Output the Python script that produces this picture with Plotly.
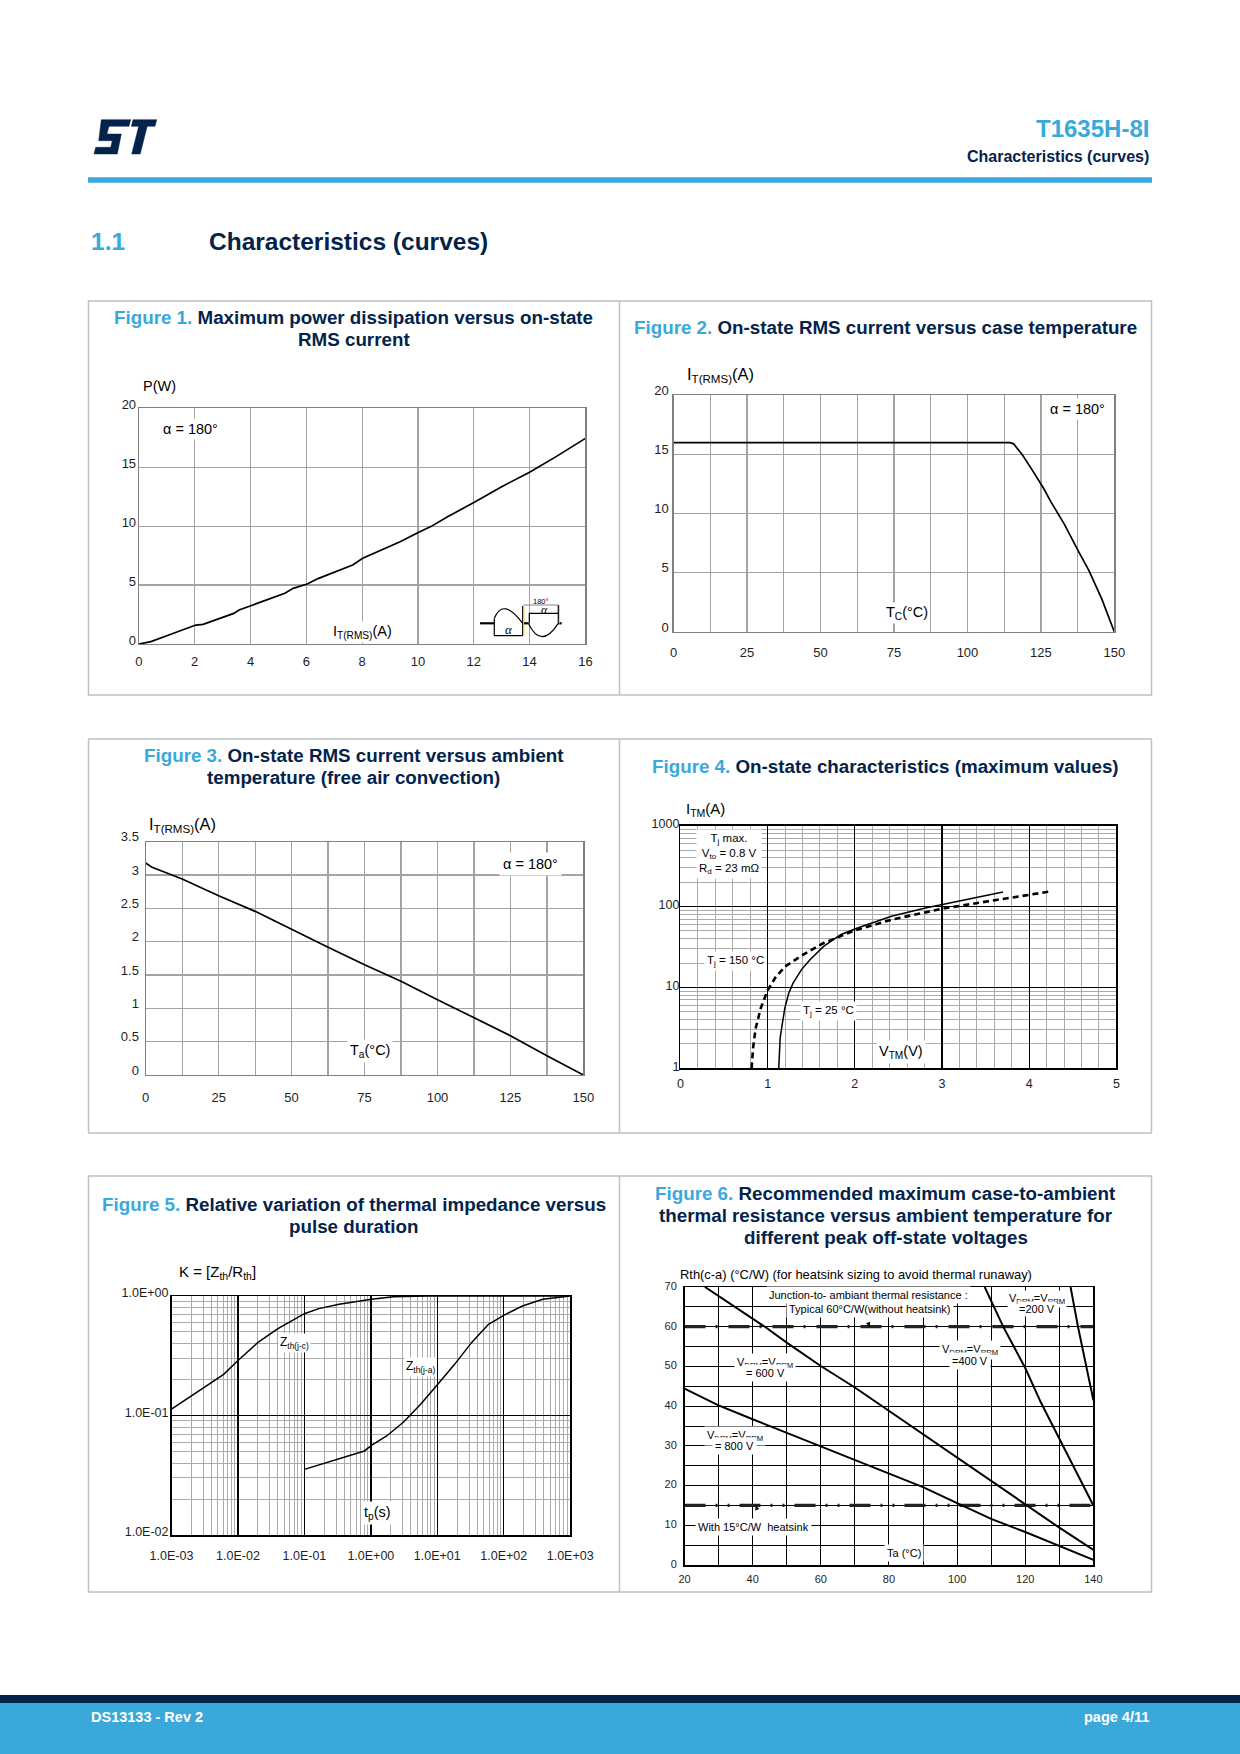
import plotly.graph_objects as go

# ------------------------------------------------------------------ data
# Figure 1 : P(W) vs IT(RMS)(A)
f1_it = [0, 0.43, 1.0, 2.04, 2.3, 3.4, 3.59, 4.06, 5.23, 5.53, 6.03, 6.44, 6.93,
         7.66, 8.02, 8.75, 9.36, 10.03, 10.46, 11.06, 12.02, 13.0, 14.0, 14.95, 16.0]
f1_p = [0, 0.2, 0.7, 1.61, 1.67, 2.6, 2.89, 3.31, 4.3, 4.72, 5.09, 5.57, 6.0,
        6.7, 7.27, 8.03, 8.68, 9.48, 9.96, 10.8, 12.02, 13.35, 14.57, 15.9, 17.45]
f1_xticks = [0, 2, 4, 6, 8, 10, 12, 14, 16]
f1_yticks = [0, 5, 10, 15, 20]

# Figure 2 : IT(RMS) vs Tc
f2_tc = [0, 114.5, 115.7, 118.6, 122, 126, 128.4, 133, 137.6, 141.3, 145.7, 150]
f2_it = [16, 16, 15.9, 15.0, 13.7, 12.1, 11.0, 9.1, 6.9, 5.2, 2.8, 0]
f2_xticks = [0, 25, 50, 75, 100, 125, 150]
f2_yticks = [0, 5, 10, 15, 20]

# Figure 3 : IT(RMS) vs Ta
f3_ta = [0, 2, 12.5, 25, 37.5, 50, 62.5, 75, 87.5, 100, 112.5, 125, 137.5, 150]
f3_it = [3.18, 3.12, 2.94, 2.69, 2.455, 2.18, 1.915, 1.655, 1.405, 1.13, 0.855, 0.59, 0.29, 0]
f3_xticks = [0, 25, 50, 75, 100, 125, 150]
f3_yticks = [0, 0.5, 1, 1.5, 2, 2.5, 3, 3.5]
f3_yticktext = ["0", "0.5", "1", "1.5", "2", "2.5", "3", "3.5"]

# Figure 4 : ITM vs VTM
f4_v25 = [1.128, 1.144, 1.167, 1.198, 1.241, 1.292, 1.389, 1.486, 1.642, 1.837, 2.031, 2.42, 2.81, 3.2, 3.70]
f4_i25 = [1, 2.37, 3.46, 5.57, 8.4, 11.3, 16.6, 22, 32.2, 44.9, 54.3, 75.7, 95.9, 116, 151]
f4_v150 = [0.817, 0.833, 0.864, 0.922, 1.0, 1.097, 1.214, 1.409, 1.642, 1.992, 2.42, 3.004, 3.588, 4.249]
f4_i150 = [1, 1.78, 3.15, 5.57, 9.2, 13.7, 18.6, 25.4, 35.4, 50.3, 68.8, 94.2, 119, 154]
f4_xticks = [0, 1, 2, 3, 4, 5]
f4_yticks = [1, 10, 100, 1000]
f4_yminor = [2, 3, 4, 5, 6, 7, 8, 9, 20, 30, 40, 50, 60, 70, 80, 90,
             200, 300, 400, 500, 600, 700, 800, 900]

# Figure 5 : K vs tp
f5_tjc = [0.001, 0.0019, 0.0034, 0.0061, 0.0101, 0.0198, 0.040, 0.064, 0.1, 0.165, 0.333, 1.02, 2.19, 7.1, 1000]
f5_kjc = [0.113, 0.144, 0.177, 0.221, 0.29, 0.407, 0.533, 0.618, 0.711, 0.784, 0.852, 0.938, 0.987, 1.0, 1.0]
f5_tja = [0.1, 0.21, 0.42, 0.8, 1.02, 1.73, 3.11, 5.61, 10.1, 18.2, 32.7, 58.9, 100, 191, 386, 1000]
f5_kja = [0.0354, 0.0403, 0.0458, 0.0505, 0.0562, 0.0674, 0.0883, 0.124, 0.182, 0.268, 0.407, 0.579, 0.689, 0.825, 0.938, 1.0]
f5_xticks = [1e-3, 1e-2, 1e-1, 1e0, 1e1, 1e2, 1e3]
f5_xticktext = ["1.0E-03", "1.0E-02", "1.0E-01", "1.0E+00", "1.0E+01", "1.0E+02", "1.0E+03"]
f5_yticks = [0.01, 0.1, 1]
f5_yticktext = ["1.0E-02", "1.0E-01", "1.0E+00"]
f5_minor = [2, 3, 4, 5, 6, 7, 8, 9]

# Figure 6 : Rth(c-a) vs Ta
f6_t800 = [20, 30, 40, 50, 60, 70, 80, 90, 100, 110, 120, 130, 140]
f6_r800 = [44.4, 40.2, 36.7, 33.3, 30.0, 26.4, 23.2, 19.6, 15.6, 11.6, 8.3, 4.9, 1.3]
f6_t600 = [26, 40, 43.9, 50, 60, 70, 80, 90, 100, 110, 120, 130, 140]
f6_r600 = [70, 61.9, 59.8, 56.0, 50.1, 44.7, 38.8, 33.1, 27.0, 21.2, 15.3, 9.4, 3.8]
f6_t400 = [108.1, 110.6, 113.6, 116.6, 120.1, 124.6, 130.2, 134.6, 140.0]
f6_r400 = [70, 65.6, 59.9, 55.1, 49.4, 40.9, 31.6, 24.1, 15.0]
f6_t200 = [133.3, 135.5, 140.0]
f6_r200 = [70, 59.9, 41.5]
f6_span = [20, 140]
f6_no_heatsink = [60, 60]
f6_heatsink15 = [15, 15]
f6_xticks = [20, 40, 60, 80, 100, 120, 140]
f6_yticks = [0, 10, 20, 30, 40, 50, 60, 70]

# ------------------------------------------------------------------ page
W, H = 1240, 1754
NAVY = "#03234B"
BLUE = "#39A9DC"
FONT = "Liberation Sans, Arial, sans-serif"
TICKC = "#1e1e1e"


def X(px):
    return px / W


def Y(py):
    return 1 - py / H


def path(points, close=True):
    s = "M " + " L ".join(f"{X(a):.5f},{Y(b):.5f}" for a, b in points)
    return s + (" Z" if close else "")


fig = go.Figure()

# plot boxes (L, R, T, B) in page pixels
boxes = {
    1: (138.9, 585.4, 408.3, 644.0),
    2: (673.6, 1114.4, 395.3, 632.0),
    3: (145.7, 583.4, 841.7, 1075.0),
    4: (680.4, 1116.4, 825.7, 1068.3),
    5: (171.5, 570.2, 1296.0, 1535.0),
    6: (684.5, 1093.4, 1287.0, 1565.0),
}


def axname(n, a):
    return f"{a}axis" if n == 1 else f"{a}axis{n}"


def ref(n, a):
    return a if n == 1 else f"{a}{n}"


layout_axes = {}


def set_axes(n, xkw, ykw, xstand, ystand, yshift, tsize, line="#808080", lw=1.2):
    L, R, T, B = boxes[n]
    base = dict(showline=True, mirror=True, linecolor=line, linewidth=lw, ticks="",
                zeroline=False, showgrid=True, automargin=False, fixedrange=True,
                tickfont=dict(family=FONT, size=tsize, color=TICKC), layer="above traces")
    xa = dict(base, domain=[X(L), X(R)], anchor=ref(n, "y"), ticklabelstandoff=xstand)
    xa.update(xkw)
    ya = dict(base, domain=[Y(B), Y(T)], anchor=ref(n, "x"), ticklabelstandoff=ystand,
              ticklabelshift=yshift)
    ya.update(ykw)
    layout_axes[axname(n, "x")] = xa
    layout_axes[axname(n, "y")] = ya


GG = "#A3A3A3"
# fig 1
set_axes(1, dict(range=[0, 16], tickvals=f1_xticks, gridcolor=GG, gridwidth=1.2),
         dict(range=[0, 20], tickvals=f1_yticks, gridcolor=GG, gridwidth=1.2),
         5, -1, -4, 13)
# fig 2
set_axes(2, dict(range=[0, 150], tickvals=f2_xticks, gridcolor=GG, gridwidth=1.2,
                 minor=dict(dtick=12.5, tick0=0, showgrid=True, gridcolor=GG, gridwidth=1.2)),
         dict(range=[0, 20], tickvals=f2_yticks, gridcolor=GG, gridwidth=1.2),
         8, 1, -5, 13)
# fig 3
set_axes(3, dict(range=[0, 150], tickvals=f3_xticks, gridcolor=GG, gridwidth=1.2,
                 minor=dict(dtick=12.5, tick0=0, showgrid=True, gridcolor=GG, gridwidth=1.2)),
         dict(range=[0, 3.5], tickvals=f3_yticks, ticktext=f3_yticktext, gridcolor=GG, gridwidth=1.2),
         10, 3, -5, 13)
# fig 4
set_axes(4, dict(range=[0, 5], tickvals=f4_xticks, gridcolor="black", gridwidth=1.3,
                 minor=dict(dtick=0.2, tick0=0, showgrid=True, gridcolor="#ABABAB", gridwidth=1)),
         dict(type="log", range=[0, 3], tickvals=f4_yticks, ticktext=[str(v) for v in f4_yticks],
              gridcolor="black", gridwidth=1.3,
              minor=dict(tickvals=f4_yminor, showgrid=True, gridcolor="#ABABAB", gridwidth=1)),
         3, -3, -2, 12.5, line="black", lw=1.5)
# fig 5
f5_xminor = [m * d for d in f5_xticks[:-1] for m in f5_minor]
f5_yminor = [m * d for d in f5_yticks[:-1] for m in f5_minor]
set_axes(5, dict(type="log", range=[-3, 3], tickvals=f5_xticks, ticktext=f5_xticktext,
                 gridcolor="black", gridwidth=1.3,
                 minor=dict(tickvals=f5_xminor, showgrid=True, gridcolor="#ABABAB", gridwidth=1)),
         dict(type="log", range=[-2, 0], tickvals=f5_yticks, ticktext=f5_yticktext,
              gridcolor="black", gridwidth=1.3,
              minor=dict(tickvals=f5_yminor, showgrid=True, gridcolor="#ABABAB", gridwidth=1)),
         8, -1, -3, 12.5, line="black", lw=1.5)
# fig 6
set_axes(6, dict(range=[20, 140], tickvals=f6_xticks, gridcolor="black", gridwidth=1,
                 minor=dict(dtick=10, tick0=20, showgrid=True, gridcolor="black", gridwidth=1)),
         dict(range=[0, 70], tickvals=f6_yticks, gridcolor="black", gridwidth=1,
              minor=dict(dtick=5, tick0=0, showgrid=True, gridcolor="black", gridwidth=1)),
         3, 4, -1, 11, line="black", lw=1.5)


def add_line(n, x, y, width=1.6, dash=None, color="black"):
    fig.add_trace(go.Scatter(x=x, y=y, mode="lines", xaxis=ref(n, "x"), yaxis=ref(n, "y"),
                             line=dict(color=color, width=width, dash=dash),
                             hoverinfo="skip", showlegend=False))


add_line(1, f1_it, f1_p, 1.7)
add_line(2, f2_tc, f2_it, 1.7)
add_line(3, f3_ta, f3_it, 1.7)
add_line(4, f4_v25, f4_i25, 1.5)
add_line(4, f4_v150, f4_i150, 2.6, dash="6px,4px")
add_line(5, f5_tjc, f5_kjc, 1.5)
add_line(5, f5_tja, f5_kja, 1.5)
add_line(6, f6_span, f6_no_heatsink, 3.2, dash="21px,10px,2px,11px", color="#222222")
add_line(6, f6_span, f6_heatsink15, 3.2, dash="21px,10px,2px,10px,2px,10px", color="#222222")
add_line(6, f6_t800, f6_r800, 2)
add_line(6, f6_t600, f6_r600, 2)
add_line(6, f6_t400, f6_r400, 2)
add_line(6, f6_t200, f6_r200, 2)

# ------------------------------------------------------------------ annotations
anns = []


def ann(text, x, y, size=14, color="black", xanchor="left", bg=None, pad=1, family=FONT):
    d = dict(text=text, x=X(x), y=Y(y), xref="paper", yref="paper", xanchor=xanchor,
             yanchor="middle", showarrow=False, font=dict(family=family, size=size, color=color))
    if bg:
        d["bgcolor"] = bg
        d["borderpad"] = pad
    anns.append(d)


def title(num, text, x, y):
    t = f"<b>"
    if num:
        t += f"<span style='color:{BLUE}'>Figure {num}.</span> "
    t += text + "</b>"
    ann(t, x, y, size=18.8, color=NAVY, xanchor="center")


LC, RC = 353.5, 885.5
title(1, "Maximum power dissipation versus on-state", LC, 317.5)
title(None, "RMS current", LC, 339.5)
title(2, "On-state RMS current versus case temperature", RC, 328)
title(3, "On-state RMS current versus ambient", LC, 755.8)
title(None, "temperature (free air convection)", LC, 777.5)
title(4, "On-state characteristics (maximum values)", RC, 766)
title(5, "Relative variation of thermal impedance versus", LC, 1204)
title(None, "pulse duration", LC, 1226.5)
title(6, "Recommended maximum case-to-ambient", RC, 1193)
title(None, "thermal resistance versus ambient temperature for", RC, 1215.4)
title(None, "different peak off-state voltages", RC, 1237.8)

# fig 1 labels
ann("P(W)", 140.6, 386, 14.5)
ann("α = 180°", 160, 429, 14.5, bg="white", pad=2)
ann("I<sub>T(RMS)</sub>(A)", 331, 631.5, 14.5, bg="white", pad=1)
# fig 2
ann("I<sub>T(RMS)</sub>(A)", 684.5, 375, 16.5)
ann("α = 180°", 1047, 409, 14.5, bg="white", pad=2)
ann("T<sub>C</sub>(°C)", 884, 613, 14.5, bg="white", pad=1)
# fig 3
ann("I<sub>T(RMS)</sub>(A)", 147, 824.7, 16.5)
ann("α = 180°", 499, 864, 14.5, bg="white", pad=3)
ann("T<sub>a</sub>(°C)", 347, 1050.7, 14.5, bg="white", pad=2)
# fig 4
ann("I<sub>TM</sub>(A)", 683.8, 809.7, 15)
ann("T<sub>j</sub> max.<br>V<sub>to</sub> = 0.8 V<br>R<sub>d</sub> = 23 mΩ", 729, 854, 11.5,
    xanchor="center", bg="white", pad=2)
ann("T<sub>j</sub> = 150 °C", 704, 960.7, 11.5, bg="white", pad=2)
ann("T<sub>j</sub> = 25 °C", 800.5, 1010.7, 11.5, bg="white", pad=2)
ann("V<sub>TM</sub>(V)", 876, 1052, 14.5, bg="white", pad=2)
# fig 5
ann("K = [Z<sub>th</sub>/R<sub>th</sub>]", 176.9, 1272, 15)
ann("Z<sub>th(j-c)</sub>", 278, 1342.7, 12, bg="white", pad=1)
ann("Z<sub>th(j-a)</sub>", 404, 1367, 12, bg="white", pad=1)
ann("t<sub>p</sub>(s)", 361, 1513, 14.5, bg="white", pad=2)
# fig 6
ann("Rth(c-a) (°C/W) (for heatsink sizing to avoid thermal runaway)", 677.7, 1274.7, 12.9)
ann("Junction-to- ambiant thermal resistance :", 868.4, 1295.3, 11, xanchor="center", bg="white", pad=2)
ann("Typical 60°C/W(without heatsink)", 870.4, 1308.7, 11, xanchor="center", bg="white", pad=2)
ann("V<sub>DRM</sub>=V<sub>RRM</sub>", 1036.7, 1299.3, 11, xanchor="center", bg="white", pad=1)
ann("=200 V", 1036.7, 1309, 11, xanchor="center", bg="white", pad=1)
ann("V<sub>DRM</sub>=V<sub>RRM</sub>", 970.2, 1350.3, 11, xanchor="center", bg="white", pad=2)
ann("=400 V", 970.2, 1360.5, 11, xanchor="center", bg="white", pad=2)
ann("V<sub>DRM</sub>=V<sub>RRM</sub>", 765.2, 1362.7, 11, xanchor="center", bg="white", pad=2)
ann("= 600 V", 765.2, 1372.5, 11, xanchor="center", bg="white", pad=2)
ann("V<sub>DRM</sub>=V<sub>RRM</sub>", 734.7, 1436, 11, xanchor="center", bg="white", pad=2)
ann("= 800 V", 734.7, 1445.8, 11, xanchor="center", bg="white", pad=2)
ann("With 15°C/W  heatsink", 753.4, 1526.7, 11, xanchor="center", bg="white", pad=2)
ann("Ta (°C)", 904.4, 1553.3, 11, xanchor="center", bg="white", pad=2)
# arrows fig 6
anns.append(dict(text=" ", x=74.3, y=60, xref="x6", yref="y6", showarrow=True, arrowhead=2,
                 arrowsize=0.9, arrowwidth=1, arrowcolor="black", ax=-4, ay=-12))
anns.append(dict(text=" ", x=40.9, y=15, xref="x6", yref="y6", showarrow=True, arrowhead=2,
                 arrowsize=0.9, arrowwidth=1, arrowcolor="black", ax=4, ay=11))

# fig 1 inset waveform labels
ann("180°", 540.5, 601.3, 7.5, xanchor="center")
ann("<i>α</i>", 544, 610.3, 12, xanchor="center", family="Liberation Serif, serif")
ann("<i>α</i>", 509, 629.5, 13, xanchor="center", family="Liberation Serif, serif")

# header / footer text
ann("<b>T1635H-8I</b>", 1150.6, 129, 24, color=BLUE, xanchor="right")
ann("<b>Characteristics (curves)</b>", 1150.6, 156.5, 16, color=NAVY, xanchor="right")
ann("<b>1.1</b>", 88.6, 241.5, 24.5, color=BLUE)
ann("<b>Characteristics (curves)</b>", 206.5, 241.5, 24.5, color=NAVY)
ann("<b>DS13133 - Rev 2</b>", 88.6, 1717, 14.5, color="white")
ann("<b>page 4/11</b>", 1150.6, 1717, 14.5, color="white", xanchor="right")

# ------------------------------------------------------------------ shapes
shapes = []


def rect(x0, y0, x1, y1, fill=None, line=None, lw=0, layer="above"):
    shapes.append(dict(type="rect", xref="paper", yref="paper", x0=X(x0), x1=X(x1), y0=Y(y1), y1=Y(y0),
                       fillcolor=fill, line=dict(color=line or "rgba(0,0,0,0)", width=lw), layer=layer))


def seg(x0, y0, x1, y1, color="black", lw=1):
    shapes.append(dict(type="line", xref="paper", yref="paper", x0=X(x0), y0=Y(y0), x1=X(x1), y1=Y(y1),
                       line=dict(color=color, width=lw)))


def pth(d, fill=None, color="black", lw=1):
    shapes.append(dict(type="path", xref="paper", yref="paper", path=d,
                       fillcolor=fill, line=dict(color=color, width=lw)))


# panel frames
BORDER = "#BAC1C7"
for (t, b) in [(301, 695), (739, 1133), (1176, 1592)]:
    rect(88.5, t, 1151.5, b, line=BORDER, lw=1.5, layer="below")
    seg(619.5, t, 619.5, b, BORDER, 1.5)

# header bar & footer bands
rect(88, 177.3, 1152, 182.7, fill=BLUE)
rect(0, 1695, 1240, 1703, fill=NAVY)
rect(0, 1703, 1240, 1754, fill="#3AA8DB")

# ST logo
pth(path([(101.3, 119.7), (130.7, 119.7), (129, 126.3), (109, 126.3), (106.9, 134), (121.3, 134),
          (117.3, 154), (94, 154), (95.7, 147.3), (110.7, 147.3), (112.3, 140.7), (98.7, 140.7)]),
    fill=NAVY, color=NAVY, lw=0.5)
pth(path([(133, 119.7), (156.7, 119.7), (155, 126.3), (147.2, 126.3), (140.2, 154), (131.7, 154),
          (138.7, 126.3), (131.4, 126.3)]), fill=NAVY, color=NAVY, lw=0.5)

# fig 1 inset waveform icon
seg(480, 623.3, 494.3, 623.3, "black", 2.2)
pth(f"M {X(494.3):.5f},{Y(618.3):.5f} Q {X(503):.5f},{Y(597):.5f} {X(522.7):.5f},{Y(623.3):.5f}",
    color="black", lw=1.2)
pth(path([(494.3, 618.3), (494.3, 635.7), (522.7, 635.7)], close=False), color="black", lw=1.2)
seg(522.7, 606, 522.7, 635.7, "black", 1.2)
seg(524, 606, 524, 635.7, "#F2E04A", 1)
seg(524, 623.3, 528.3, 623.3, "black", 2.2)
pth(f"M {X(528.3):.5f},{Y(623.3):.5f} Q {X(541):.5f},{Y(650):.5f} {X(558.3):.5f},{Y(623.3):.5f}",
    color="black", lw=1.2)
seg(558.3, 623.3, 561.7, 623.3, "black", 2.2)
pth(path([(529.3, 623.3), (529.3, 613.3), (558.3, 613.3)], close=False), color="black", lw=1.2)
seg(558.3, 605, 558.3, 623.3, "black", 1.2)
seg(559.5, 605, 559.5, 623.3, "#F2E04A", 1)
seg(523.3, 605, 558.3, 605, "#888888", 1.2)

fig.update_layout(
    width=W, height=H, autosize=False,
    margin=dict(l=0, r=0, t=0, b=0, pad=0),
    paper_bgcolor="white", plot_bgcolor="white",
    template="none", showlegend=False,
    annotations=anns, shapes=shapes,
    font=dict(family=FONT),
    **layout_axes,
)

fig.write_html("out.html", config={"displayModeBar": False, "staticPlot": True},
               post_script="document.body.style.margin='0px';document.body.style.overflow='hidden';")
